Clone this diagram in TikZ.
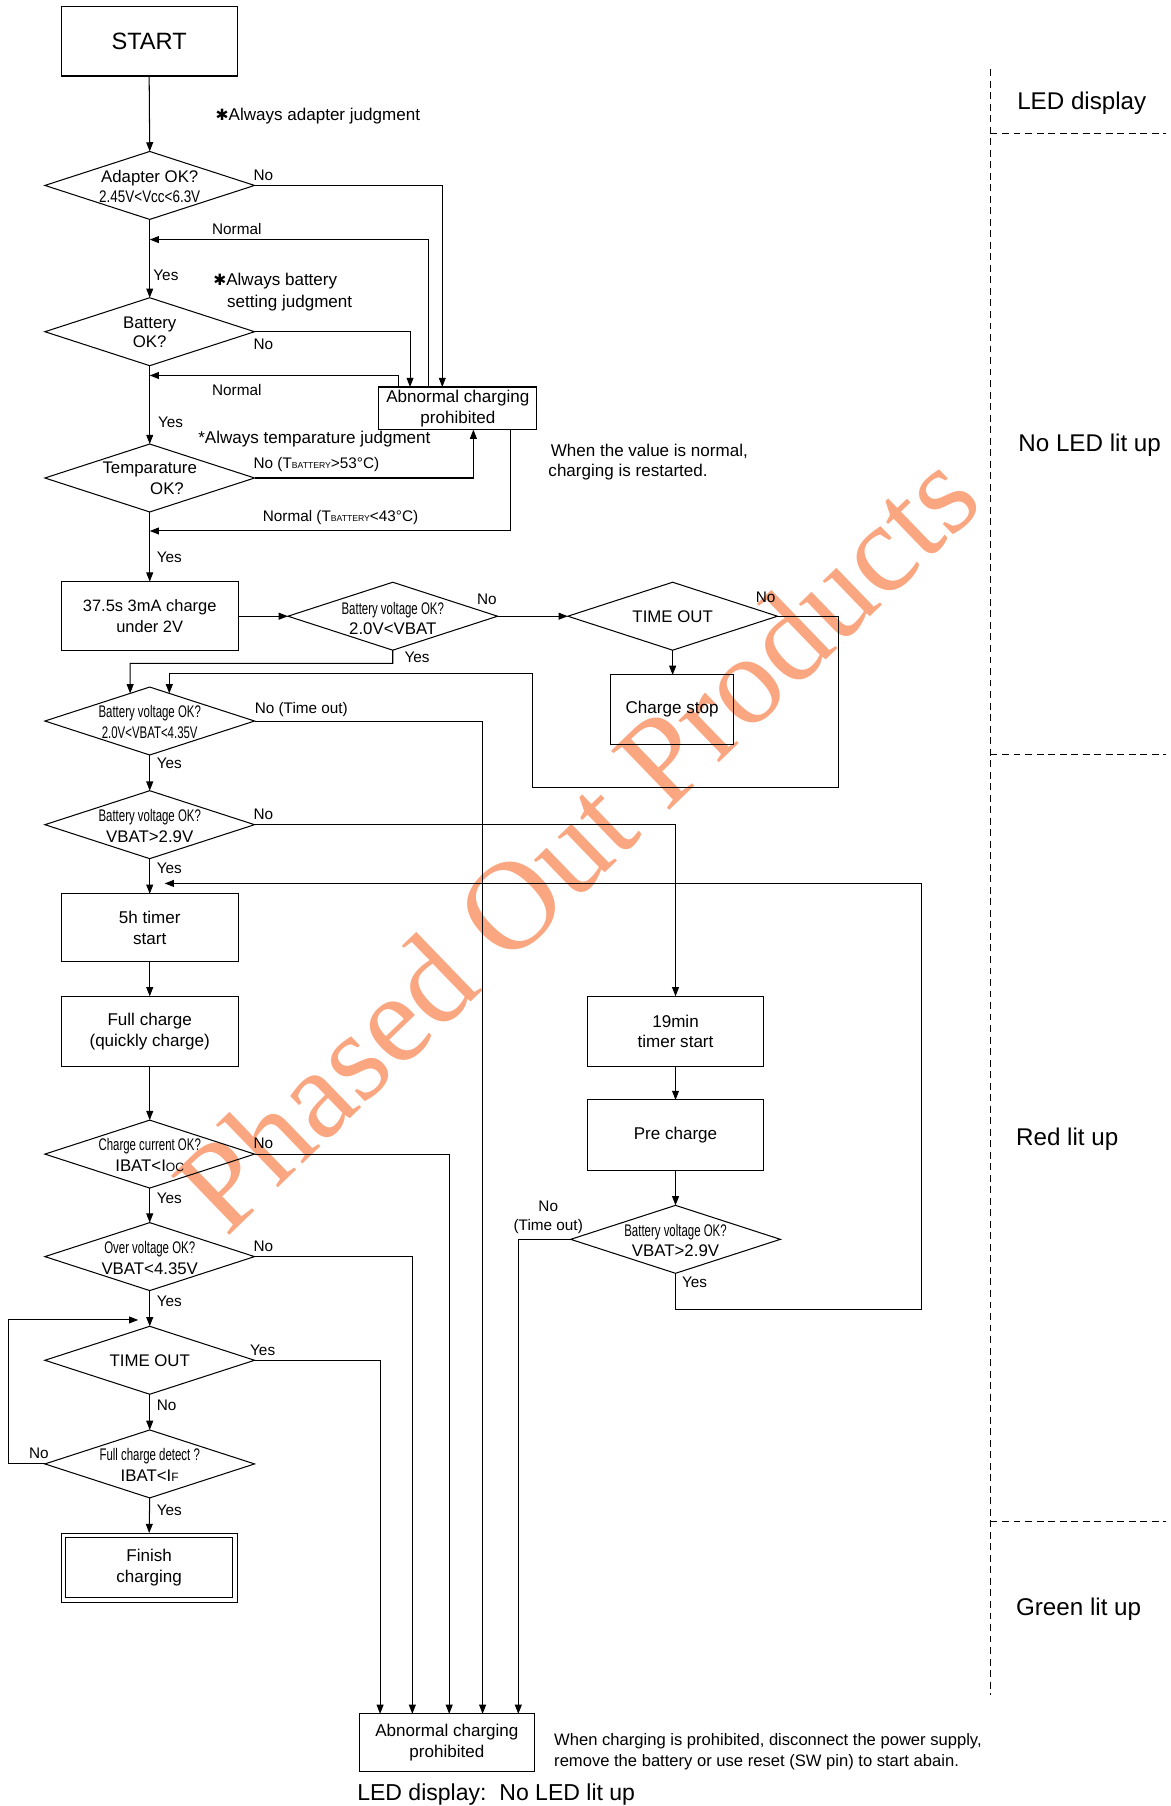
\documentclass[tikz,border=0pt]{standalone}
\usepackage{fontspec}
\setmainfont{Liberation Sans}
\newfontfamily\condf[FakeStretch=0.68]{Liberation Sans}
\newfontfamily\condg[FakeStretch=0.80]{Liberation Sans}
\newfontfamily\wmfont{Liberation Serif}
\newfontfamily\djv{DejaVu Sans}
\usetikzlibrary{shapes.geometric,arrows.meta,calc}
\definecolor{wmcol}{RGB}{250,166,128}
\newcommand{\fs}[2]{\fontsize{#1}{#2}\selectfont}
\newcommand{\subsc}[1]{{\fontsize{7.5}{8}\selectfont #1}}
\newcommand{\smcap}[1]{{\fontsize{10.5}{10}\selectfont #1}}
\newcommand{\hstar}{{\djv\fontsize{13.5}{10}\selectfont ✱}}
\begin{document}
\begin{tikzpicture}[x=1pt,y=-1pt,
  box/.style={draw,line width=0.9pt,inner sep=0pt,outer sep=0pt,align=center,font=\fs{14.8}{18}},
  dia/.style={draw,diamond,line width=0.9pt,minimum width=182pt,minimum height=59pt,inner sep=0pt,outer sep=0pt},
  dtxt/.style={inner sep=0pt,align=center,font=\fs{14.6}{18}},
  lbl/.style={inner sep=0pt,anchor=west,font=\fs{13.3}{16}},
  note/.style={inner sep=0pt,anchor=west,font=\fs{14.8}{18}},
  arr/.style={line width=0.9pt,-{Triangle[length=8pt,width=6pt]}},
  dsh/.style={line width=0.9pt,dash pattern=on 6pt off 4pt},
  led/.style={inner sep=0pt,anchor=west,font=\fs{21}{24}}]
\useasboundingbox (0,0) rectangle (1016,1568);
% watermark
\node[inner sep=0pt,rotate=44,text=wmcol,font=\wmfont\fs{110}{110}] (wmk) at (500,730) {Phased Out Products};

% ---- main column nodes
\node[box,minimum width=153pt,minimum height=60pt,font=\fs{20.5}{24}] (start) at (129.5,36) {START};
\node[dia] (adp) at (130,161) {};
\node[dtxt] (adpT) at (130,162) {Adapter OK?\\{\condg 2.45V<Vcc<6.3V}};
\node[dia] (bat) at (130,288) {};
\node[dtxt,font=\fs{14.6}{17}] (batT) at (130,288.5) {Battery\\OK?};
\node[dia] (tmp) at (130,415) {};
\node[dtxt] (tmpT) at (130,415) {Temparature\\\hspace*{30pt}OK?};
\node[box,minimum width=154pt,minimum height=60pt,font=\fs{14.3}{18}] (c375) at (130,535) {37.5s 3mA charge\\under 2V};
\node[dia] (bv1) at (341,535) {};
\node[dtxt] (bv1T) at (341,537) {{\condf Battery voltage OK?}\\2.0V<VBAT};
\node[dia] (to1) at (584,535) {};
\node[dtxt] (to1T) at (584,535) {TIME OUT};
\node[box,minimum width=107pt,minimum height=60pt] (cstop) at (583.5,616) {Charge stop};
\node[box,minimum width=137pt,minimum height=37pt] (abn1) at (397.5,354.5) {Abnormal charging\\prohibited};
\node[dia] (bv2) at (130,626) {};
\node[dtxt] (bv2T) at (130,627) {{\condf Battery voltage OK?}\\{\condf 2.0V<VBAT<4.35V}};
\node[dia] (bv3) at (130,716) {};
\node[dtxt] (bv3T) at (130,717) {{\condf Battery voltage OK?}\\VBAT>2.9V};
\node[box,minimum width=154pt,minimum height=59pt] (t5h) at (130,805.5) {5h timer\\start};
\node[box,minimum width=154pt,minimum height=61pt] (full) at (130,895.5) {Full charge\\(quickly charge)};
\node[dia] (cc) at (130,1002) {};
\node[dtxt] (ccT) at (130,1003) {{\condf Charge current OK?}\\IBAT<I\smcap{OC}};
\node[dia] (ov) at (130,1091) {};
\node[dtxt] (ovT) at (130,1092) {{\condf Over voltage OK?}\\VBAT<4.35V};
\node[dia] (to2) at (130,1181) {};
\node[dtxt] (to2T) at (130,1181) {TIME OUT};
\node[dia] (fcd) at (130,1271) {};
\node[dtxt] (fcdT) at (130,1272) {{\condf Full charge detect ?}\\IBAT<I\smcap{F}};
\node[box,minimum width=153pt,minimum height=60pt] (fin) at (129.5,1361) {Finish\\charging};
\draw[line width=0.9pt] ([shift={(4,4)}]fin.north west) rectangle ([shift={(-4,-4)}]fin.south east);
\node[box,minimum width=152pt,minimum height=50pt] (abn2) at (388,1513) {Abnormal charging\\prohibited};
% right column
\node[box,minimum width=153pt,minimum height=61pt] (m19) at (586.5,895.5) {19min\\timer start};
\node[box,minimum width=153pt,minimum height=61pt] (pre) at (586.5,985.5) {Pre charge};
\node[dia] (bv4) at (586.5,1076) {};
\node[dtxt] (bv4T) at (586.5,1077) {{\condf Battery voltage OK?}\\VBAT>2.9V};

% ---- coordinates
\coordinate (abnA) at (384,336);
\coordinate (abnB) at (372,336);
\coordinate (abnC) at (356,336);
\coordinate (abnD) at (346,336);
\coordinate (abnE) at (411,373);
\coordinate (abnF) at (443,373);
\coordinate (j1) at (130,208);
\coordinate (j2) at (130,326);
\coordinate (j3) at (130,461);
\coordinate (lpA) at (728,684);
\coordinate (lpB) at (462,585);
\coordinate (lpC) at (113,576);
\coordinate (bv2nw) at ($(bv2.north)!17/91!(bv2.west)$);
\coordinate (bv2ne) at ($(bv2.north)!17/91!(bv2.east)$);
\coordinate (abn2a) at (330,1488);
\coordinate (abn2b) at (358,1488);
\coordinate (abn2c) at (390,1488);
\coordinate (abn2d) at (419,1488);
\coordinate (abn2e) at (450,1488);
\coordinate (lpD) at (7,1146);
\coordinate (lpE) at (120,1146);
\coordinate (lpF) at (800,1137);
\coordinate (lpG) at (143,767);

% ---- connectors
\draw[arr] (start.south) -- (adp.north);
\draw[arr] (adp.east) -| (abnA);
\draw[arr] (abnB) |- (j1);
\draw[arr] (adp.south) -- (bat.north);
\draw[arr] (bat.east) -| (abnC);
\draw[arr] (abnD) |- (j2);
\draw[arr] (bat.south) -- (tmp.north);
\draw[arr] (tmp.east) -| (abnE);
\draw[arr] (abnF) |- (j3);
\draw[arr] (tmp.south) -- (c375.north);
\draw[arr] (c375.east) -- (bv1.west);
\draw[arr] (bv1.east) -- (to1.west);
\draw[arr] (to1.south) -- (to1.south |- cstop.north);
\draw[arr] (to1.east) -| (lpA) -| (lpB) -| (bv2ne);
\draw[arr] (bv1.south) |- (lpC) -- (bv2nw);
\draw[arr] (bv2.east) -| (abn2d);
\draw[arr] (bv2.south) -- (bv3.north);
\draw[arr] (bv3.east) -| (m19.north);
\draw[arr] (bv3.south) -- (t5h.north);
\draw[arr] (t5h.south) -- (full.north);
\draw[arr] (full.south) -- (cc.north);
\draw[arr] (cc.east) -| (abn2c);
\draw[arr] (cc.south) -- (ov.north);
\draw[arr] (ov.east) -| (abn2b);
\draw[arr] (ov.south) -- (to2.north);
\draw[arr] (to2.east) -| (abn2a);
\draw[arr] (to2.south) -- (fcd.north);
\draw[arr] (fcd.west) -| (lpD) -- (lpE);
\draw[arr] (fcd.south) -- (fin.north);
\draw[arr] (m19.south) -- (pre.north);
\draw[arr] (pre.south) -- (bv4.north);
\draw[arr] (bv4.west) -| (abn2e);
\draw[arr] (bv4.south) |- (lpF) |- (lpG);

% ---- edge labels
\node[lbl] (e1) at (220,152) {No};
\node[lbl] (e2) at (184,199) {Normal};
\node[lbl] (e3) at (133,239) {Yes};
\node[lbl] (e4) at (220,299) {No};
\node[lbl] (e5) at (184,339) {Normal};
\node[lbl] (e6) at (137,367) {Yes};
\node[lbl] (e7) at (220,403) {No (T\subsc{BATTERY}>53°C)};
\node[lbl] (e8) at (228,449) {Normal (T\subsc{BATTERY}<43°C)};
\node[lbl] (e9) at (136,484) {Yes};
\node[lbl] (e10) at (414,520) {No};
\node[lbl] (e11) at (351,571) {Yes};
\node[lbl] (e12) at (656,519) {No};
\node[lbl] (e13) at (221,616) {No (Time out)};
\node[lbl] (e14) at (136,663) {Yes};
\node[lbl] (e15) at (220,707) {No};
\node[lbl] (e16) at (136,754) {Yes};
\node[lbl] (e17) at (220,993) {No};
\node[lbl] (e18) at (136,1040) {Yes};
\node[lbl] (e19) at (220,1082) {No};
\node[lbl] (e20) at (136,1130) {Yes};
\node[lbl] (e21) at (217,1172) {Yes};
\node[lbl] (e22) at (136,1220) {No};
\node[lbl] (e23) at (25,1262) {No};
\node[lbl] (e24) at (136,1311) {Yes};
\node[lbl,anchor=center,align=center] (e25) at (476,1057) {No\\(Time out)};
\node[lbl] (e26) at (592,1113) {Yes};

% ---- notes
\node[note] (n1) at (187,101) {\hstar Always adapter judgment};
\node[note] (n2) at (185,244) {\hstar Always battery};
\node[note] (n3) at (197,263) {setting judgment};
\node[note] (n4) at (172,381) {*Always temparature judgment};
\node[note] (n5) at (478,392) {When the value is normal,};
\node[note] (n6) at (476,410) {charging is restarted.};
\node[note,font=\fs{14.4}{18}] (n7) at (481,1512) {When charging is prohibited, disconnect the power supply,};
\node[note,font=\fs{14.4}{18}] (n8) at (481,1530) {remove the battery or use reset (SW pin) to start abain.};
\node[note,font=\fs{20}{24}] (n9) at (310,1558) {LED display:\ \ No LED lit up};

% ---- LED panel
\draw[dsh] (860,60) -- (860,1472);
\draw[dsh] (860,116) -- (1012,116);
\draw[dsh] (860,655) -- (1012,655);
\draw[dsh] (860,1321) -- (1012,1321);
\node[led] (r1) at (883,90) {LED display};
\node[led] (r2) at (884,387) {No LED lit up};
\node[led] (r3) at (882,989) {Red lit up};
\node[led] (r4) at (882,1397) {Green lit up};
\end{tikzpicture}
\end{document}
